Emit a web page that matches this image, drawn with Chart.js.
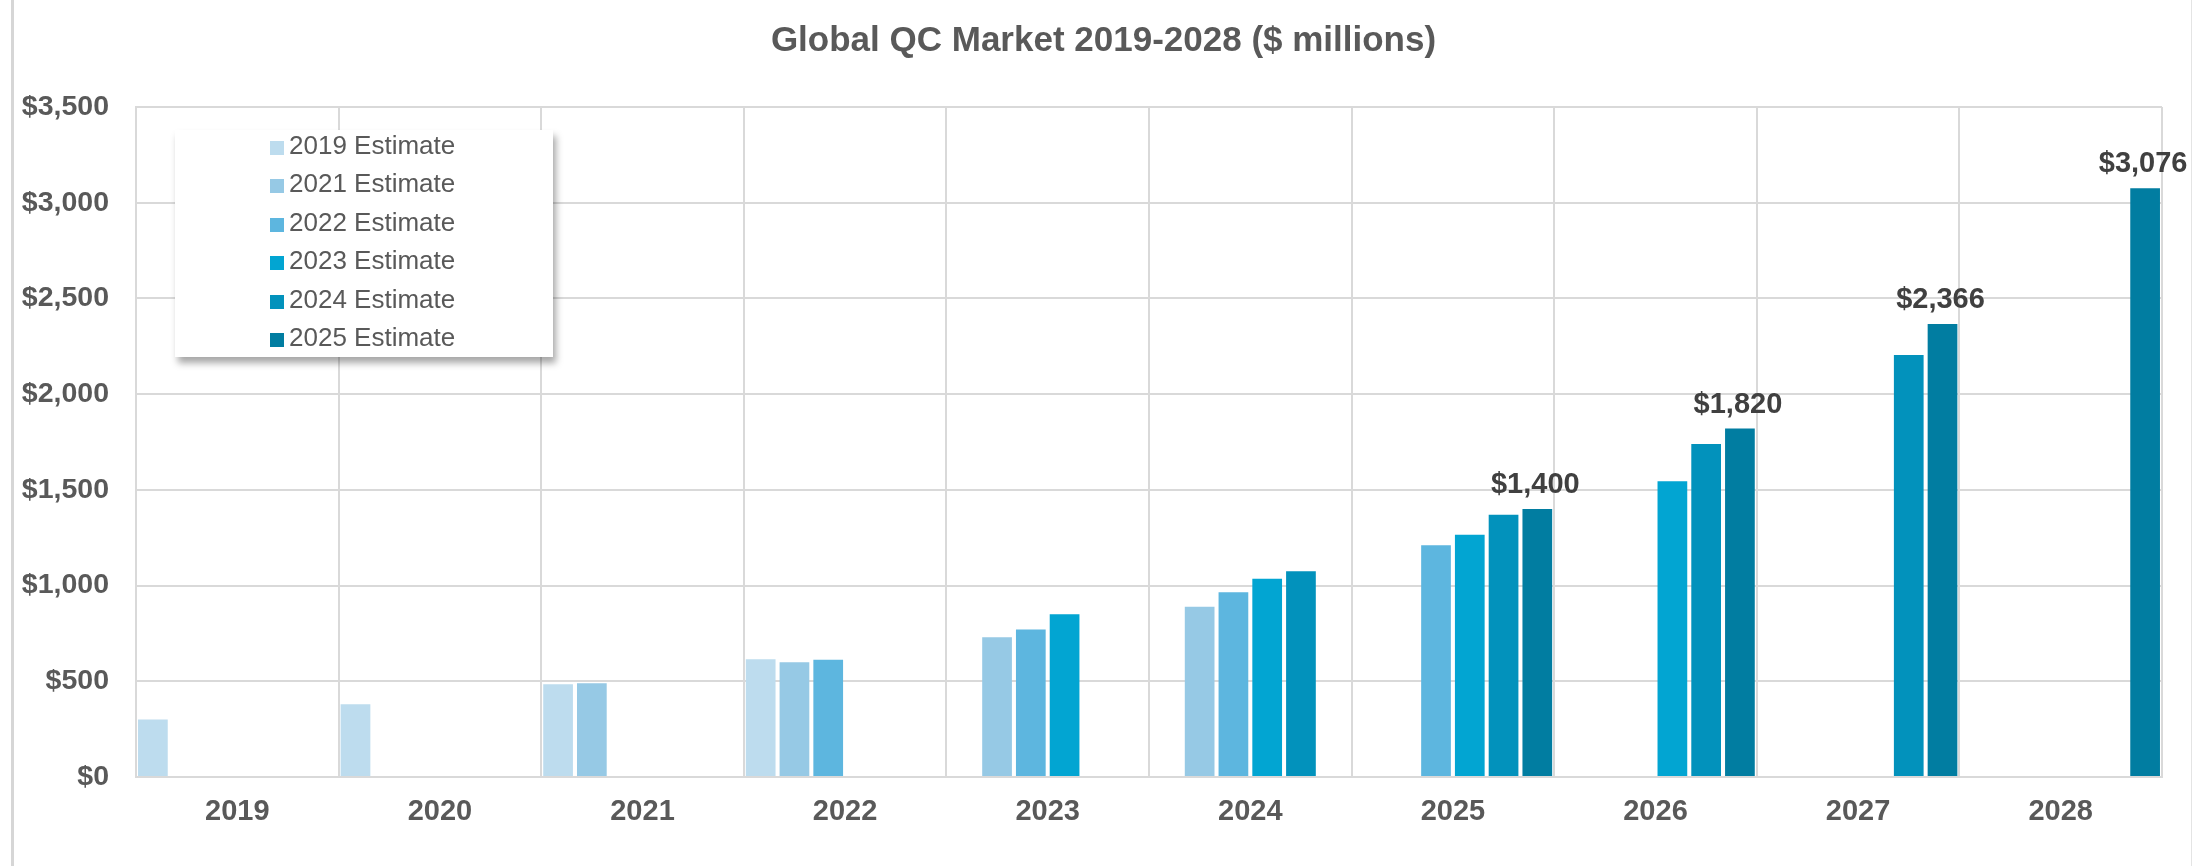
<!DOCTYPE html>
<html>
<head>
<meta charset="utf-8">
<title>Global QC Market 2019-2028</title>
<script src="https://cdn.jsdelivr.net/npm/chart.js@4.4.1/dist/chart.umd.min.js"></script>
<style>
    html, body {
        margin: 0;
        padding: 0;
        background: #ffffff;
        font-family: "Liberation Sans", Arial, sans-serif;
    }
    #frame {
        position: absolute;
        left: 11px;
        top: 0;
        width: 2181px;
        height: 866px;
        border-left: 3px solid #d6d6d6;
        border-right: 1px solid #e4e4e4;
        box-sizing: border-box;
    }
    #grafica {
        position: absolute;
        left: 13px;
        top: 0;
    }
    #leyenda {
        position: absolute;
        left: 175px;
        top: 130px;
        width: 378px;
        height: 227px;
        background: #ffffff;
        box-shadow: 3px 6px 7px rgba(0, 0, 0, 0.35);
        overflow: hidden;
    }
    #leyenda .item {
        position: absolute;
        left: 95px;
        height: 38px;
        line-height: 38px;
        font-size: 26px;
        color: #595959;
        white-space: nowrap;
    }
    #leyenda .item span {
        display: inline-block;
        width: 14px;
        height: 14px;
        margin-right: 5px;
        vertical-align: -1px;
    }
</style>
</head>
<body>
<div id="frame"></div>
<canvas id="grafica" width="2181" height="866"></canvas>
<div id="leyenda"></div>

<script>
"use strict";

// categorias del eje X
const years = ["2019", "2020", "2021", "2022", "2023", "2024", "2025", "2026", "2027", "2028"];

// una serie por cada estimado
const seriesNames = ["2019 Estimate", "2021 Estimate", "2022 Estimate", "2023 Estimate", "2024 Estimate", "2025 Estimate"];
const est2019 = [300, 380, 485, 615, null, null, null, null, null, null];
const est2021 = [null, null, 490, 600, 730, 890, null, null, null, null];
const est2022 = [null, null, null, 613, 770, 965, 1210, null, null, null];
const est2023 = [null, null, null, null, 850, 1035, 1265, 1545, null, null];
const est2024 = [null, null, null, null, null, 1075, 1370, 1740, 2205, null];
const est2025 = [null, null, null, null, null, null, 1400, 1820, 2366, 3076];

const yTicks = [0, 500, 1000, 1500, 2000, 2500, 3000, 3500];

const colores = ["#bddcee", "#96c9e5", "#5db6df", "#02a5d2", "#0292bc", "#017da1"];

document.addEventListener("DOMContentLoaded", () => {
    const $grafica = document.querySelector("#grafica");
    const $leyenda = document.querySelector("#leyenda");

    const fuente = "'Liberation Sans', Arial, sans-serif";
    const gris = "#595959";
    const lineas = "#d9d9d9";

    const formato = (v) => "$" + Number(v).toLocaleString("en-US");

    const valores = [est2019, est2021, est2022, est2023, est2024, est2025];
    const datasets = valores.map((data, i) => ({
        label: seriesNames[i],
        data: data,
        backgroundColor: colores[i],
        borderWidth: 0,
        categoryPercentage: 1.0,
        barPercentage: 0.88,
    }));

    // etiquetas de valor solo sobre la ultima serie
    const etiquetas = {
        id: "etiquetas",
        afterDatasetsDraw(chart) {
            const ctx = chart.ctx;
            const last = datasets.length - 1;
            const meta = chart.getDatasetMeta(last);
            ctx.save();
            ctx.font = "bold 29px " + fuente;
            ctx.fillStyle = "#404040";
            ctx.textAlign = "center";
            ctx.textBaseline = "alphabetic";
            meta.data.forEach((bar, i) => {
                const v = datasets[last].data[i];
                if (v === null) return;
                ctx.fillText(formato(v), bar.x - 2, bar.y - 16);
            });
            ctx.restore();
        },
    };

    new Chart($grafica, {
        type: "bar",
        data: {
            labels: years,
            datasets: datasets,
        },
        plugins: [etiquetas],
        options: {
            responsive: false,
            animation: false,
            layout: {
                padding: 0,
            },
            plugins: {
                legend: { display: false },
                tooltip: { enabled: false },
                title: {
                    display: true,
                    text: "Global QC Market 2019-2028 ($ millions)",
                    color: gris,
                    font: { family: fuente, size: 35, weight: "bold" },
                    padding: { top: 20, bottom: 45 },
                },
            },
            scales: {
                x: {
                    grid: {
                        color: lineas,
                        lineWidth: 2,
                        offset: true,
                        drawTicks: false,
                    },
                    border: { color: lineas, width: 2 },
                    ticks: {
                        color: gris,
                        padding: 18,
                        font: { family: fuente, size: 29, weight: "bold" },
                    },
                    afterFit(scale) {
                        scale.height = 89;
                    },
                },
                y: {
                    min: 0,
                    max: 3500,
                    afterBuildTicks(scale) {
                        scale.ticks = yTicks.map((v) => ({ value: v }));
                    },
                    grid: {
                        color: lineas,
                        lineWidth: 2,
                        drawTicks: false,
                    },
                    border: { color: lineas, width: 2 },
                    ticks: {
                        color: gris,
                        padding: 27,
                        font: { family: fuente, size: 28.5, weight: "bold" },
                        callback: (v) => formato(v),
                    },
                    afterFit(scale) {
                        scale.width = 123;
                    },
                },
                // eje vacio a la derecha: solo reserva margen, asi el titulo queda centrado en el lienzo
                margen: {
                    position: "right",
                    display: true,
                    grid: { display: false },
                    border: { display: false },
                    ticks: { display: false },
                    afterFit(scale) {
                        scale.width = 32;
                    },
                },
            },
        },
    });

    // leyenda en HTML con sombra
    seriesNames.forEach((name, i) => {
        const item = document.createElement("DIV");
        item.classList.add("item");
        item.style.top = `${-4.5 + i * 38.5}px`;
        const box = document.createElement("SPAN");
        box.style.background = colores[i];
        item.appendChild(box);
        item.appendChild(document.createTextNode(name));
        $leyenda.appendChild(item);
    });
});
</script>
</body>
</html>
